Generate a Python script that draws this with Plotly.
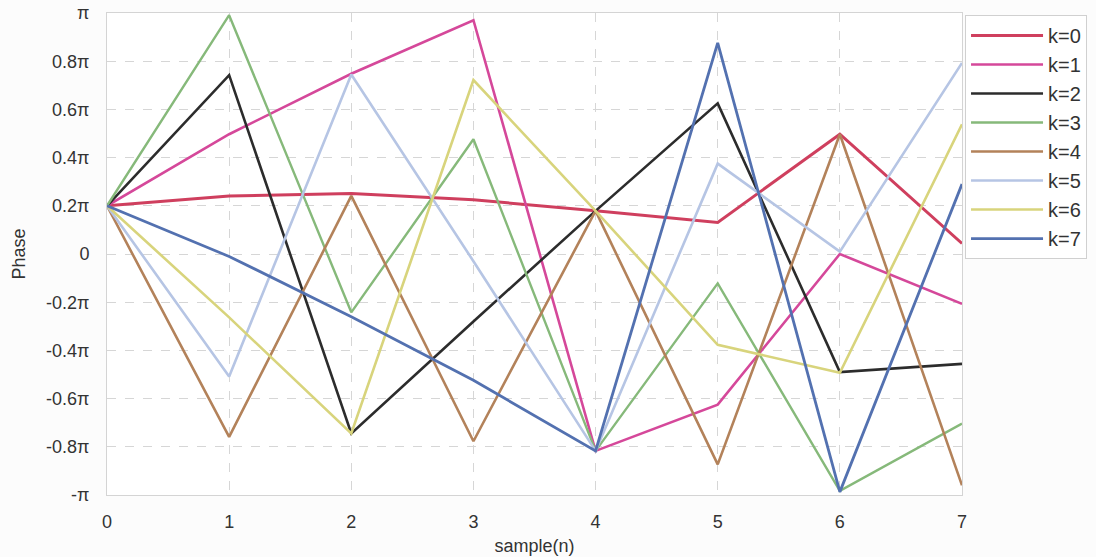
import plotly.graph_objects as go

# Sample index n
samples = [0, 1, 2, 3, 4, 5, 6, 7]

# Phase of each component, in units of pi
phase_k0 = [0.200, 0.241, 0.251, 0.225, 0.179, 0.131, 0.497, 0.044]
phase_k1 = [0.200, 0.497, 0.748, 0.970, -0.817, -0.625, 0.000, -0.207]
phase_k2 = [0.200, 0.742, -0.745, -0.280, 0.179, 0.625, -0.490, -0.456]
phase_k3 = [0.200, 0.991, -0.242, 0.476, -0.817, -0.122, -0.983, -0.704]
phase_k4 = [0.200, -0.759, 0.241, -0.777, 0.179, -0.873, 0.497, -0.960]
phase_k5 = [0.200, -0.508, 0.745, -0.030, -0.817, 0.375, 0.010, 0.793]
phase_k6 = [0.200, -0.263, -0.745, 0.722, 0.179, -0.377, -0.493, 0.538]
phase_k7 = [0.200, -0.010, -0.260, -0.524, -0.817, 0.876, -0.987, 0.290]

series_names = ["k=0", "k=1", "k=2", "k=3", "k=4", "k=5", "k=6", "k=7"]
series_values = [phase_k0, phase_k1, phase_k2, phase_k3,
                 phase_k4, phase_k5, phase_k6, phase_k7]

# Y ticks at multiples of 0.2*pi
tick_values = [-1.0, -0.8, -0.6, -0.4, -0.2, 0.0, 0.2, 0.4, 0.6, 0.8, 1.0]
tick_labels = ["-π", "-0.8π", "-0.6π", "-0.4π", "-0.2π", "0",
               "0.2π", "0.4π", "0.6π", "0.8π", "π"]

colors = ["#cf3f5e", "#d5489a", "#2c2c2c", "#86b97a",
          "#b3825a", "#b6c5e4", "#d8d47c", "#5371b0"]
widths = [3, 2.6, 2.6, 2.4, 2.6, 2.6, 2.6, 2.8]

fig = go.Figure()
for name, vals, col, w in zip(series_names, series_values, colors, widths):
    fig.add_trace(go.Scatter(
        x=samples, y=vals, mode="lines", name=name,
        line=dict(color=col, width=w),
    ))

axis_font = dict(family="Liberation Sans, Arial, sans-serif", size=18, color="#333333")

fig.update_layout(
    width=1096, height=557,
    margin=dict(l=107, r=134, t=13, b=62, autoexpand=False),
    paper_bgcolor="#fcfcfc",
    plot_bgcolor="#ffffff",
    font=axis_font,
    showlegend=True,
    legend=dict(
        xref="container", yref="container",
        x=0.8805, y=0.973, xanchor="left", yanchor="top",
        bgcolor="#ffffff", bordercolor="#d0d0d0", borderwidth=1,
        font=dict(family="Liberation Sans, Arial, sans-serif", size=20, color="#333333"),
        itemwidth=72,
        tracegroupgap=0,
    ),
)

fig.update_xaxes(
    range=[0, 7], tickvals=samples, ticktext=[str(s) for s in samples],
    showgrid=True, gridcolor="#d6d6d6", griddash="dash", gridwidth=1,
    showline=True, linecolor="#d4d4d4", linewidth=1, mirror=True,
    zeroline=False, ticks="outside", ticklen=10, tickcolor="rgba(0,0,0,0)",
    tickfont=axis_font, automargin=False,
    title=dict(text="sample(n)", font=axis_font, standoff=8),
)
fig.update_yaxes(
    range=[-1, 1], tickvals=tick_values, ticktext=tick_labels,
    showgrid=True, gridcolor="#d6d6d6", griddash="dash", gridwidth=1,
    showline=True, linecolor="#d4d4d4", linewidth=1, mirror=True,
    zeroline=False, ticks="outside", ticklen=13, tickcolor="rgba(0,0,0,0)",
    tickfont=axis_font, automargin=False,
    title=dict(text="Phase", font=axis_font, standoff=15),
)

fig.write_html("out.html")
